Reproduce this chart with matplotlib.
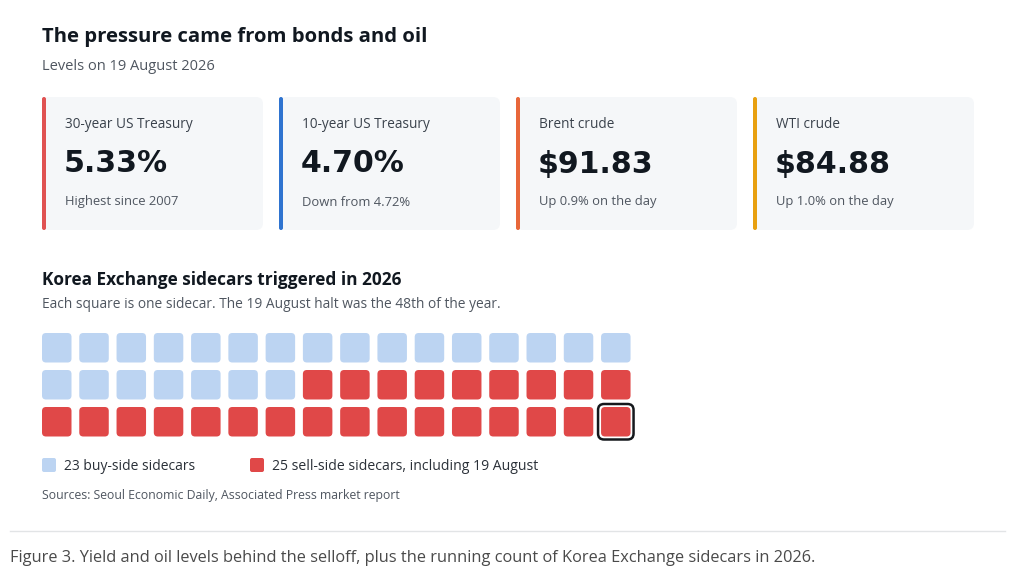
import numpy as np
import matplotlib
matplotlib.use('Agg')
import matplotlib.pyplot as plt
from matplotlib.patches import FancyBboxPatch

# Card data
card_labels = ['30-year US Treasury', '10-year US Treasury', 'Brent crude', 'WTI crude']
card_values = ['5.33%', '4.70%', '$91.83', '$84.88']
card_notes = ['Highest since 2007', 'Down from 4.72%', 'Up 0.9% on the day', 'Up 1.0% on the day']
card_colors = ['#e05252', '#2f74d0', '#e8673a', '#e8a010']

# Waffle data
buy_side = 23
sell_side = 25
n_cols = 16
highlight_index = 47  # the 19 August halt, 48th of the year

plt.rcParams['font.family'] = ['Open Sans', 'DejaVu Sans']

fig = plt.figure(figsize=(10.24, 5.84), dpi=100)
ax = fig.add_axes([0, 0, 1, 1])
ax.set_xlim(0, 1024)
ax.set_ylim(584, 0)
ax.axis('off')

dark = '#111820'
grey = '#4f5660'

# Header
ax.text(42, 37, 'The pressure came from bonds and oil', fontsize=14.6, fontweight='bold',
        color=dark, va='center', ha='left')
ax.text(42, 66, 'Levels on 19 August 2026', fontsize=10.5, color=grey, va='center')

# Cards
card_x0, card_w, card_gap = 42, 221, 16
card_y0, card_h = 97, 133
for i, (lab, val, note, col) in enumerate(zip(card_labels, card_values, card_notes, card_colors)):
    x = card_x0 + i * (card_w + card_gap)
    bg = FancyBboxPatch((x, card_y0), card_w, card_h,
                        boxstyle='round,pad=0,rounding_size=7',
                        fc='#f5f7f9', ec='none')
    ax.add_patch(bg)
    bar = FancyBboxPatch((x, card_y0), 4, card_h,
                         boxstyle='round,pad=0,rounding_size=2',
                         fc=col, ec='none')
    ax.add_patch(bar)
    ax.text(x + 23, 125, lab, fontsize=9.8, color='#3a424c', va='center', fontweight='medium')
    ax.text(x + 22, 164, val, fontsize=21.6, fontweight='bold', color=dark, va='center',
            family='DejaVu Sans')
    ax.text(x + 23, 202, note, fontsize=9.4, color=grey, va='center')

# Waffle section
ax.text(42, 280, 'Korea Exchange sidecars triggered in 2026', fontsize=12.4, fontweight='bold',
        color=dark, va='center')
ax.text(42, 305, 'Each square is one sidecar. The 19 August halt was the 48th of the year.',
        fontsize=9.95, color=grey, va='center')

buy_col = '#bcd4f2'
sell_col = '#e04848'
total = buy_side + sell_side
sq, pitch = 29.5, 37.27
gx0, gy0, row_pitch = 42, 333, 37
for k in range(total):
    r, c = divmod(k, n_cols)
    x = gx0 + c * pitch
    y = gy0 + r * row_pitch
    col = buy_col if k < buy_side else sell_col
    ax.add_patch(FancyBboxPatch((x, y), sq, sq, boxstyle='round,pad=0,rounding_size=4',
                                fc=col, ec='none'))
    if k == highlight_index:
        ax.add_patch(FancyBboxPatch((x - 3, y - 3), sq + 6, sq + 6,
                                    boxstyle='round,pad=0,rounding_size=6',
                                    fc='none', ec='#15181c', lw=1.8))

# Legend
ax.add_patch(FancyBboxPatch((42, 458), 14, 14, boxstyle='round,pad=0,rounding_size=2',
                            fc=buy_col, ec='none'))
ax.text(64, 466, f'{buy_side} buy-side sidecars', fontsize=10, color='#2a3038', va='center')
ax.add_patch(FancyBboxPatch((250, 458), 14, 14, boxstyle='round,pad=0,rounding_size=2',
                            fc=sell_col, ec='none'))
ax.text(272, 466, f'{sell_side} sell-side sidecars, including 19 August', fontsize=10.1,
        color='#2a3038', va='center')

ax.text(42, 496, 'Sources: Seoul Economic Daily, Associated Press market report',
        fontsize=8.85, color=grey, va='center')

# Separator and caption
ax.plot([10, 1005], [531, 531], color='#e2e4e6', lw=1)
ax.text(10, 558, 'Figure 3. Yield and oil levels behind the selloff, plus the running count of '
        'Korea Exchange sidecars in 2026.', fontsize=11.8, color='#4a4a4a', va='center')

fig.savefig('out.png', dpi=100, facecolor='white')
